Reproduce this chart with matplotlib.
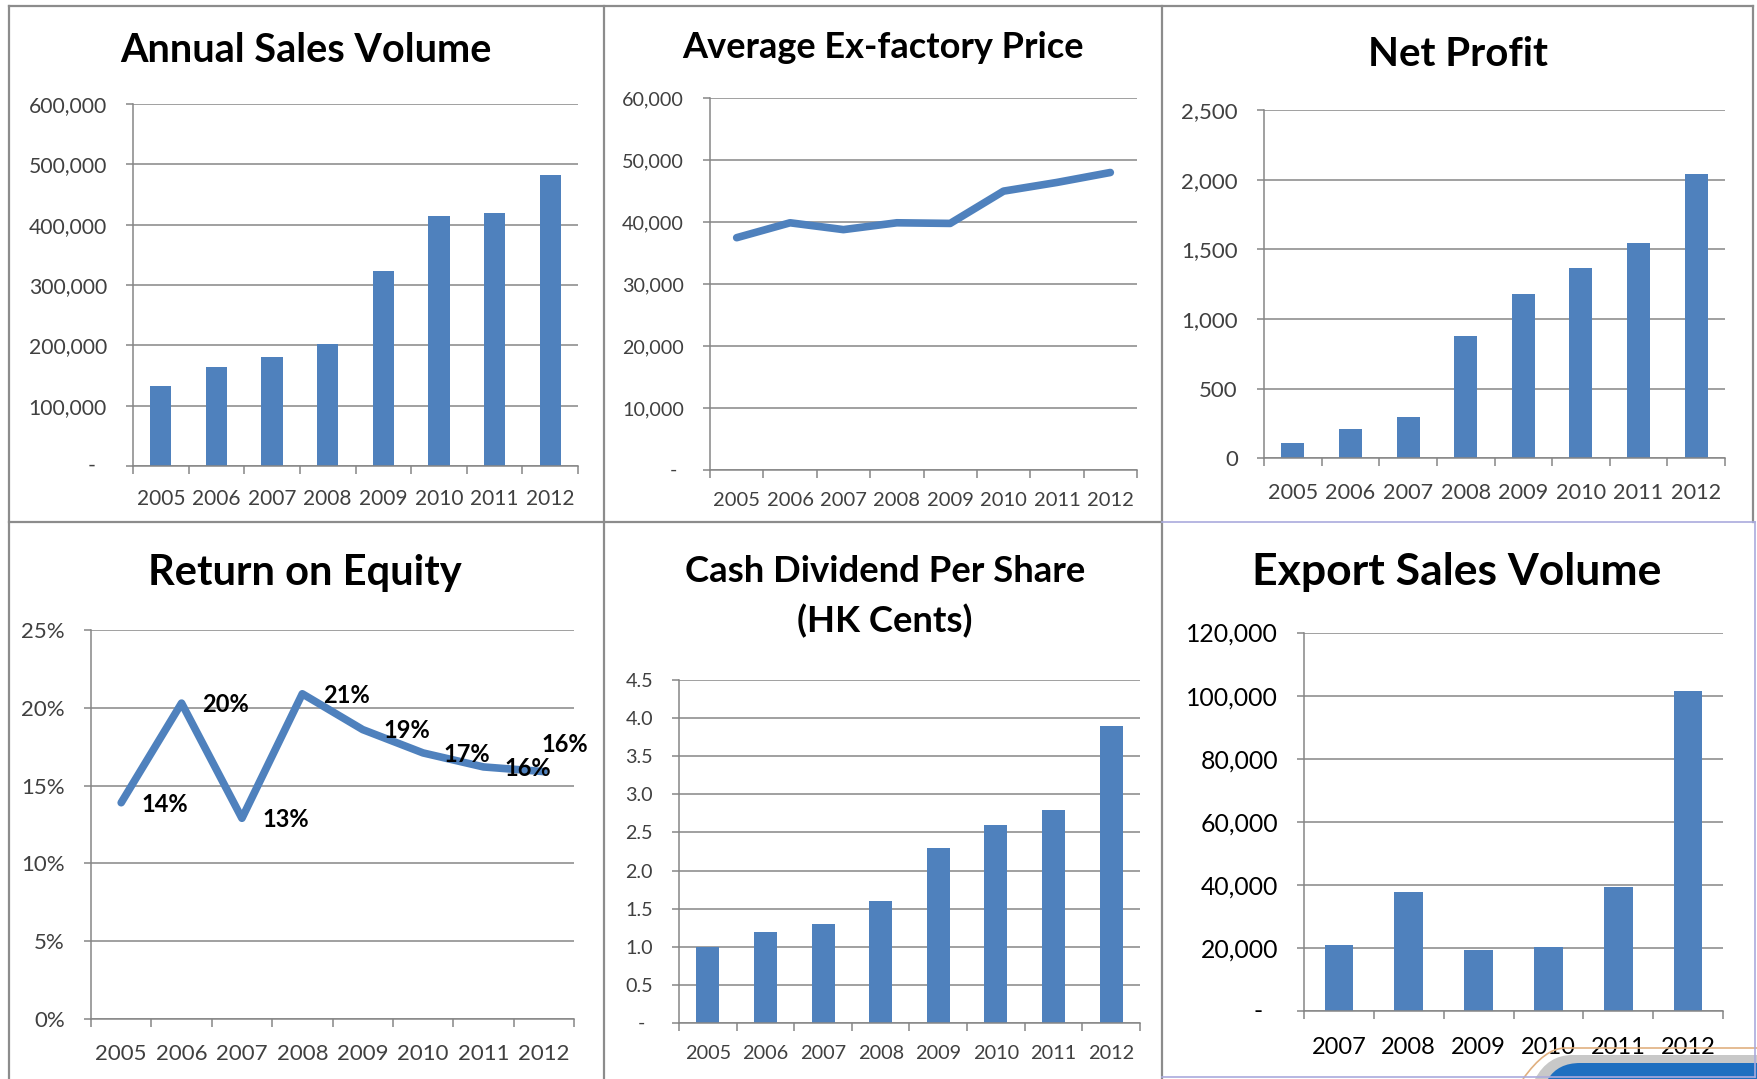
import numpy as np
import matplotlib
matplotlib.use('Agg')
import matplotlib.pyplot as plt
import matplotlib.transforms as mtransforms
from matplotlib.ticker import FuncFormatter
from matplotlib.path import Path
from matplotlib.patches import PathPatch
from matplotlib.lines import Line2D

plt.rcParams['font.family'] = ['Lato', 'DejaVu Sans']

# ---- data ----
years = ['2005', '2006', '2007', '2008', '2009', '2010', '2011', '2012']
sales_volume = [132000, 164000, 181000, 203000, 324000, 415000, 420000, 482000]
ex_factory_price = [37500, 39900, 38800, 39900, 39800, 45000, 46400, 48000]
net_profit = [114, 209, 301, 881, 1180, 1369, 1544, 2041]
roe = [13.9, 20.3, 12.9, 20.9, 18.6, 17.1, 16.2, 15.9]
roe_labels = ['14%', '20%', '13%', '21%', '19%', '17%', '16%', '16%']
dividend = [1.0, 1.2, 1.3, 1.6, 2.3, 2.6, 2.8, 3.9]
export_years = ['2007', '2008', '2009', '2010', '2011', '2012']
export_volume = [20900, 37800, 19200, 20400, 39400, 101300]

BLUE = '#4F81BD'
GRID = '#868686'
TXT = '#404040'
W, H = 1757, 1079

fig = plt.figure(figsize=(W / 100, H / 100), dpi=100)
fig.patch.set_facecolor('white')
# pixel coords (y down) -> figure
pxt = mtransforms.Affine2D().scale(1 / W, -1 / H).translate(0, 1) + fig.transFigure


def px_axes(x0, x1, y0, y1):
    return fig.add_axes([x0 / W, 1 - y1 / H, (x1 - x0) / W, (y1 - y0) / H])


def style(ax, cats, ymax, ystep, fmt, ysize, xsize, xpad, color=TXT, dash_dx=None):
    n = len(cats)
    ax.set_xlim(-0.5, n - 0.5)
    ax.set_ylim(0, ymax)
    ax.set_yticks(np.arange(0, ymax + ystep / 2, ystep))
    ax.yaxis.set_major_formatter(FuncFormatter(fmt))
    ax.set_xticks(np.arange(n + 1) - 0.5)
    ax.set_xticklabels([])
    ax.set_xticks(range(n), minor=True)
    ax.set_xticklabels(cats, minor=True)
    ax.tick_params(axis='x', which='major', length=6, width=1.1, color=GRID, direction='out')
    ax.tick_params(axis='x', which='minor', length=0, pad=xpad, labelsize=xsize, labelcolor=color)
    ax.tick_params(axis='y', length=4.8, width=1.1, color=GRID, pad=14, labelsize=ysize, labelcolor=color)
    ax.grid(axis='y', color=GRID, lw=1.1)
    ax.set_axisbelow(True)
    for s in ['top', 'right']:
        ax.spines[s].set_visible(False)
    for s in ['left', 'bottom']:
        ax.spines[s].set_color(GRID)
        ax.spines[s].set_linewidth(1.1)
    if dash_dx is not None:
        ax.annotate('-', xy=(0, 0), xycoords=('axes fraction', 'data'),
                    xytext=(dash_dx / 1.389, 0), textcoords='offset points',
                    ha='center', va='center', fontsize=ysize, color=color)


def acct(v, pos):
    return '' if v == 0 else f'{v:,.0f}'


def title(text, x, y, size, spacing=1.25):
    fig.text(x / W, 1 - y / H, text, ha='center', va='center', fontsize=size,
             fontweight='bold', color='black', linespacing=spacing)


# ---- Annual Sales Volume ----
ax1 = px_axes(133, 578, 104, 466)
ax1.bar(range(len(years)), sales_volume, width=0.38, color=BLUE)
style(ax1, years, 600000, 100000, acct, 15.2, 15, 16.5, dash_dx=-41)
title('Annual Sales Volume', 306, 50, 28.5)

# ---- Average Ex-factory Price ----
ax2 = px_axes(710, 1137, 98, 470.5)
ax2.plot(range(len(years)), ex_factory_price, color=BLUE, lw=5.5, solid_capstyle='round')
style(ax2, years, 60000, 10000, acct, 14.2, 14.5, 15.5, dash_dx=-37)
title('Average Ex-factory Price', 883, 47, 26)

# ---- Net Profit ----
ax3 = px_axes(1264, 1725, 110, 458.5)
ax3.bar(range(len(years)), net_profit, width=0.4, color=BLUE)
style(ax3, years, 2500, 500, lambda v, p: f'{v:,.0f}', 16, 15.6, 18)
title('Net Profit', 1458, 54, 29)

# ---- Return on Equity ----
ax4 = px_axes(91, 574, 630, 1019)
ax4.plot(range(len(years)), roe, color=BLUE, lw=5.5, solid_capstyle='round')
style(ax4, years, 25, 5, lambda v, p: f'{v:.0f}%', 16, 16, 18)
for i, (v, lab) in enumerate(zip(roe, roe_labels)):
    off = (15, 19.5) if i == len(roe) - 1 else (31.7, -1)
    ax4.annotate(lab, xy=(i, v), xytext=off, textcoords='offset points',
                 ha='center', va='center', fontsize=17, fontweight='bold', color='black')
title('Return on Equity', 305, 573, 30)

# ---- Cash Dividend Per Share ----
ax5 = px_axes(679, 1140, 680, 1023)
ax5.bar(range(len(years)), dividend, width=0.4, color=BLUE)
style(ax5, years, 4.5, 0.5, lambda v, p: '' if v == 0 else f'{v:.1f}', 14.2, 14.3, 16, dash_dx=-38)
title('Cash Dividend Per Share\n(HK Cents)', 885, 597, 26.3, spacing=1.55)

# ---- Export Sales Volume ----
ax6 = px_axes(1304, 1723, 632.5, 1011)
ax6.bar(range(len(export_years)), export_volume, width=0.41, color=BLUE)
style(ax6, export_years, 120000, 20000, acct, 17.8, 17, 19, color='black', dash_dx=-46)
title('Export Sales Volume', 1457, 572, 32)

# ---- panel frames ----
frame = dict(color='#8c8c8c', lw=1.6, transform=pxt)
for xs, ys in [((9, 1753), (6, 6)), ((9, 1162), (522, 522)), ((9, 9), (6, 1079)),
               ((604, 604), (6, 1079)), ((1162, 1162), (6, 1079)), ((1753, 1753), (6, 522))]:
    fig.add_artist(Line2D(xs, ys, **frame))
lav = dict(color='#aaaadd', lw=1.2, transform=pxt)
for xs, ys in [((1162, 1755), (522, 522)), ((1755, 1755), (522, 1077)), ((1162, 1755), (1077, 1077))]:
    fig.add_artist(Line2D(xs, ys, **lav))

# ---- corner decoration ----
C = Path.CURVE3
band = Path([(1535, 1079), (1548, 1055), (1572, 1055), (1757, 1055), (1757, 1079), (1535, 1079)],
            [Path.MOVETO, C, C, Path.LINETO, Path.LINETO, Path.CLOSEPOLY])
fig.add_artist(PathPatch(band, facecolor='#c8c8c8', edgecolor='none', transform=pxt))
blue = Path([(1548, 1079), (1558, 1063), (1580, 1063), (1757, 1063), (1757, 1079), (1548, 1079)],
            [Path.MOVETO, C, C, Path.LINETO, Path.LINETO, Path.CLOSEPOLY])
fig.add_artist(PathPatch(blue, facecolor='#1f6fc0', edgecolor='none', transform=pxt))
orange = Path([(1523, 1079), (1545, 1048), (1565, 1048), (1757, 1048)],
              [Path.MOVETO, C, C, Path.LINETO])
fig.add_artist(PathPatch(orange, facecolor='none', edgecolor='#e0b080', lw=1.2, transform=pxt))

fig.savefig('out.png', dpi=100)
